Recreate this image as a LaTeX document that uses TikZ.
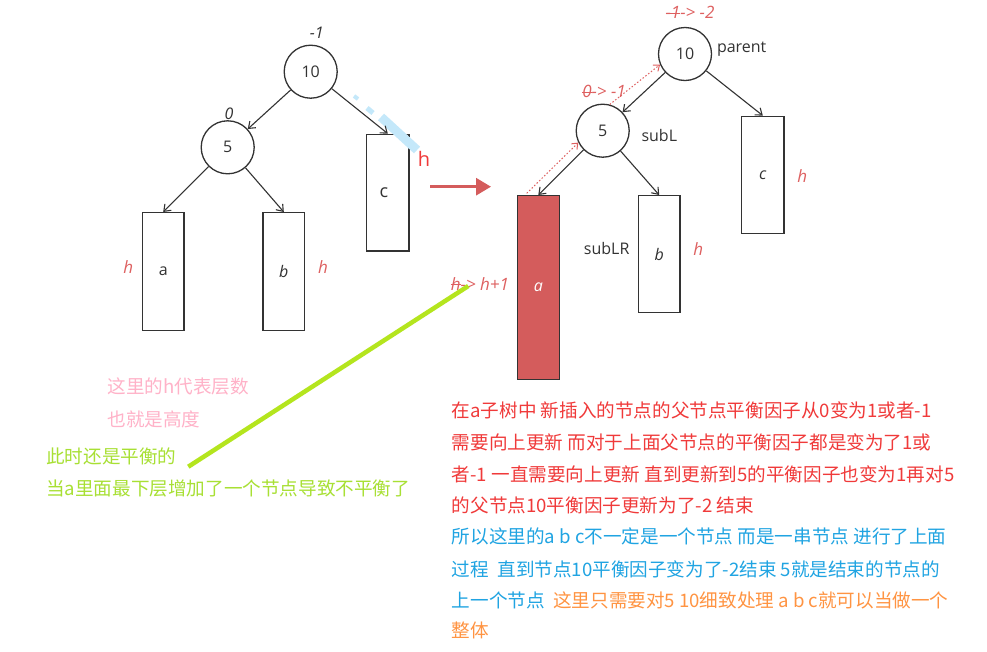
\documentclass[tikz,border=0pt]{standalone}
\usepackage{fontspec}
\setmainfont{Open Sans}
\newfontfamily\cjk{Noto Sans CJK SC}
\newcommand\mystrike[1]{\setbox0\hbox{#1}\rlap{\rule[0.3em]{\wd0}{0.06em}}\box0}
\usetikzlibrary{arrows.meta}
\definecolor{ink}{RGB}{51,51,51}
\definecolor{lbl}{RGB}{222,96,96}
\definecolor{boxred}{RGB}{212,92,92}
\definecolor{txtred}{RGB}{240,58,58}
\definecolor{txtblue}{RGB}{32,164,226}
\definecolor{txtorange}{RGB}{255,148,66}
\definecolor{txtpink}{RGB}{255,178,200}
\definecolor{txtgreen}{RGB}{168,224,52}
\definecolor{linegreen}{RGB}{180,229,30}
\definecolor{hilite}{RGB}{196,232,250}
\begin{document}
\begin{tikzpicture}[x=1pt,y=-1pt,
  treenode/.style={circle,draw=ink,line width=1.3pt,minimum size=53pt,inner sep=0pt,font=\fontsize{16}{16}\selectfont,text=ink},
  subtree/.style={draw=ink,line width=1.4pt,inner sep=0pt,font=\fontsize{16}{16}\selectfont,text=ink},
  arr/.style={draw=ink,line width=1.1pt,-{Straight Barb[length=6pt,width=9pt]}},
  dotarr/.style={draw=lbl,line width=1pt,dash pattern=on 1.5pt off 2pt,-{Straight Barb[length=5pt,width=8pt]}},
  bf/.style={font=\fontsize{16}{16}\selectfont\itshape,text=ink},
  redlbl/.style={font=\fontsize{17}{17}\selectfont\itshape,text=lbl},
  namelbl/.style={font=\fontsize{16}{16}\selectfont,text=ink},
  cjktxt/.style={anchor=west,inner sep=0pt,font=\cjk\fontsize{18.6}{18.6}\selectfont}
]
\useasboundingbox (0,0) rectangle (987,651);
\fill[white] (0,0) rectangle (987,651);

% ---------- left tree ----------
\node[treenode] (t1) at (310.7,71.7) {10};
\node[treenode] (s1) at (227.7,147.3) {5};
\node[subtree,minimum width=41.7pt,minimum height=118pt] (a1) at (163.2,271.7) {a};
\node[subtree,minimum width=41.7pt,minimum height=118pt,font=\fontsize{16}{16}\selectfont\itshape] (b1) at (283.8,271.7) {b};
\node[subtree,minimum width=42.3pt,minimum height=116.7pt] (c1) at (387.8,192.7) {};
\node[font=\fontsize{18}{18}\selectfont,text=ink] (c1l) at (384,192.7) {c};

% highlight artefact near c
\draw[hilite,line width=9pt] (381,117) -- (417,150);
\draw[hilite,line width=5pt] (367,108) -- (373,113);
\draw[hilite,line width=4pt] (354,96) -- (358,99);

\draw[arr] (t1) -- (s1);
\draw[arr] (t1) -- (c1.north);
\draw[arr] (s1) -- (a1.north);
\draw[arr] (s1) -- (b1.north);

\node[bf] (bf10) at (316.7,32.7) {-1};
\node[bf] (bf5) at (229,114) {0};
\node[redlbl] (ha) at (128.3,267.3) {h};
\node[redlbl] (hb) at (323,267.3) {h};
\node[font=\fontsize{20}{20}\selectfont,text=txtred] (hc) at (424,159) {h};

% ---------- big arrow ----------
\coordinate (ar1) at (430,186.7);
\coordinate (ar2) at (491,186.7);
\draw[boxred,line width=3pt,-{Triangle[length=15pt,width=17pt]}] (ar1) -- (ar2);

% ---------- right tree ----------
\node[treenode] (t2) at (685,54) {10};
\node[treenode] (s2) at (602.7,130.7) {5};
\node[subtree,fill=boxred,minimum width=42pt,minimum height=183.6pt,font=\fontsize{16}{16}\selectfont\itshape,text=white] (a2) at (538.3,287.5) {a};
\node[subtree,minimum width=41.7pt,minimum height=116.6pt,font=\fontsize{16}{16}\selectfont\itshape] (b2) at (659.2,254) {b};
\node[subtree,minimum width=42.3pt,minimum height=117pt,font=\fontsize{16}{16}\selectfont\itshape] (c2) at (762.8,174.8) {c};

\draw[arr] (t2) -- (s2);
\draw[arr] (t2) -- (c2.north);
\draw[arr] (s2) -- (a2.north);
\draw[arr] (s2) -- (b2.north);

\coordinate (da) at (526.7,193.3);
\draw[dotarr] (da) -- (s2.206);
\draw[dotarr] (s2.75) -- (t2.203);

\node[namelbl] (par) at (741.7,49.3) {parent};
\node[namelbl] (subl) at (659.3,135) {subL};
\node[namelbl] (sublr) at (606.7,248.3) {subLR};

\node[redlbl] (bf10b) at (690,12.7) {\mystrike{-1} -> -2};
\node[redlbl] (bf5b) at (604,91.7) {\mystrike{0} -> -1};
\node[redlbl] (ha2) at (480,284) {\mystrike{h} -> h+1};
\node[redlbl] (hb2) at (698.3,249.3) {h};
\node[redlbl] (hc2) at (802.3,176) {h};

% ---------- left notes ----------
\node[cjktxt,text=txtpink] (n1) at (107.3,386.7) {这里的h代表层数};
\node[cjktxt,text=txtpink] (n2) at (107.3,419.3) {也就是高度};
\node[cjktxt,text=txtgreen] (n3) at (46,456.7) {此时还是平衡的};
\node[cjktxt,text=txtgreen] (n4) at (46,488.3) {当a里面最下层增加了一个节点导致不平衡了};

\coordinate (g1) at (188.3,466.7);
\coordinate (g2) at (468.3,286);
\draw[linegreen,line width=4.5pt] (g1) -- (g2);

% ---------- right notes ----------
\node[cjktxt,text=txtred] (r1) at (451.7,410.7) {在a子树中 新插入的节点的父节点平衡因子从0变为1或者-1};
\node[cjktxt,text=txtred] (r2) at (451.7,442.7) {需要向上更新 而对于上面父节点的平衡因子都是变为了1或};
\node[cjktxt,text=txtred] (r3) at (451.7,474) {者-1 一直需要向上更新 直到更新到5的平衡因子也变为1再对5};
\node[cjktxt,text=txtred] (r4) at (451.7,505) {的父节点10平衡因子更新为了-2 结束};
\node[cjktxt,text=txtblue] (r5) at (451.7,536.7) {所以这里的a b c不一定是一个节点 而是一串节点 进行了上面};
\node[cjktxt,text=txtblue] (r6) at (451.7,569) {过程\ \ 直到节点10平衡因子变为了-2结束 5就是结束的节点的};
\node[cjktxt,text=txtblue] (r7) at (451.7,600) {上一个节点\ \ \textcolor{txtorange}{这里只需要对5 10细致处理 a b c就可以当做一个}};
\node[cjktxt,text=txtorange] (r8) at (451.7,630.7) {整体};
\end{tikzpicture}
\end{document}
